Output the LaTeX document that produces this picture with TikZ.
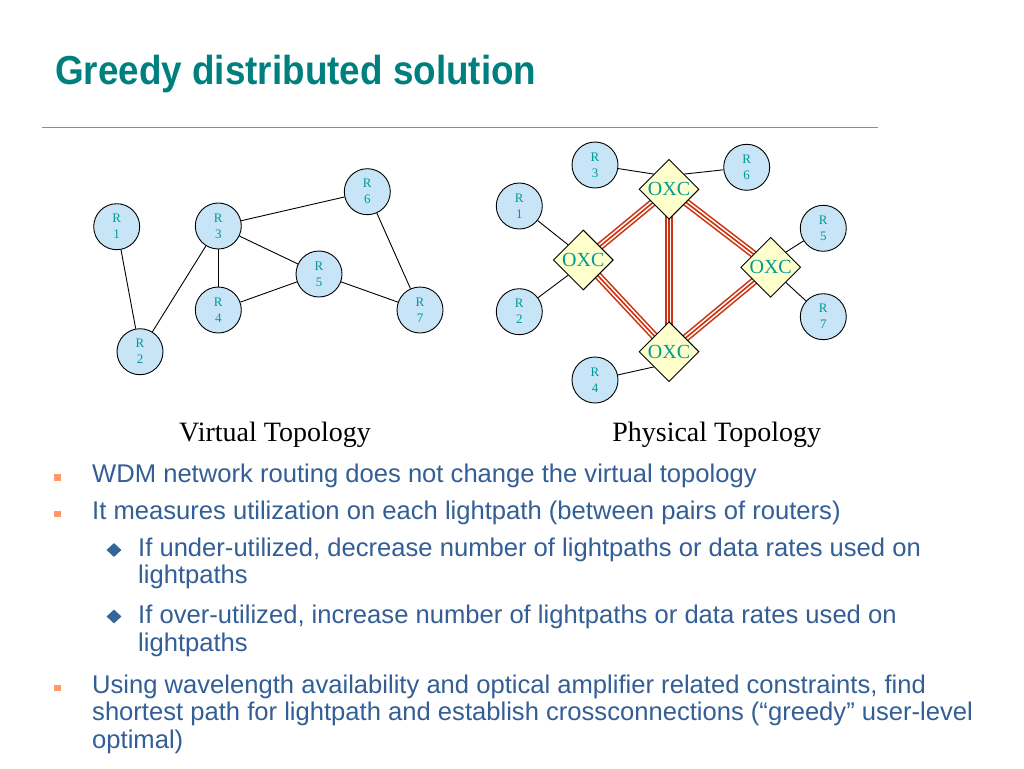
\documentclass[tikz,border=0pt]{standalone}
\usepackage{fontspec}
\setmainfont{Liberation Serif}
\newfontfamily\bodyfont{Liberation Sans}
\newfontfamily\titlefont{Liberation Sans}[FakeStretch=0.91]
\usetikzlibrary{shapes.geometric,backgrounds}
\definecolor{titleteal}{HTML}{007F7F}
\definecolor{rulecol}{HTML}{7F89B8}
\definecolor{bodyblue}{HTML}{335E96}
\definecolor{bulletorange}{HTML}{FF9966}
\definecolor{diamondblue}{HTML}{336699}
\definecolor{nodeteal}{HTML}{009999}
\definecolor{routerfill}{HTML}{C8E4F7}
\definecolor{oxcfill}{HTML}{FFFFCC}
\definecolor{fibred}{HTML}{CC3311}
\tikzset{
  router/.style={circle, draw=black, line width=0.9pt, fill=routerfill, minimum size=46pt, inner sep=0pt, align=center, font=\fontsize{13}{16}\selectfont, text=nodeteal},
  oxc/.style={diamond, aspect=1, draw=black, line width=0.9pt, fill=oxcfill, minimum width=60pt, minimum height=60pt, inner sep=0pt},
  oxclabel/.style={font=\fontsize{20}{20}\selectfont, text=nodeteal, inner sep=0pt},
  fiber/.style={draw=fibred, line width=8pt, postaction={draw=white, line width=4.8pt}, postaction={draw=fibred, line width=1.6pt}},
  vlink/.style={draw=black, line width=0.9pt},
  bodyline/.style={anchor=base west, inner sep=0pt, font=\bodyfont\fontsize{25.6}{27}\selectfont, text=bodyblue},
  caption/.style={anchor=base, inner sep=0pt, font=\fontsize{28}{30}\selectfont, text=black},
  sqbullet/.style={rectangle, fill=bulletorange, minimum size=6.5pt, inner sep=0pt},
  dmbullet/.style={diamond, fill=diamondblue, minimum width=15pt, minimum height=14pt, inner sep=0pt}
}
\begin{document}
\begin{tikzpicture}[x=1pt,y=-1pt]
\useasboundingbox (0,0) rectangle (1024,768);
\begin{scope}[on background layer]
\fill[white] (0,0) rectangle (1024,768);
\end{scope}

% title
\node[anchor=base west, inner sep=0pt, font=\titlefont\bfseries\fontsize{40.5}{44}\selectfont, text=titleteal] (title) at (55,84) {Greedy distributed solution};
\coordinate (ruleA) at (42,127.5);
\coordinate (ruleB) at (878,127.5);
\draw[rulecol, line width=1.5pt] (ruleA) -- (ruleB);

% virtual topology
\node[router] (v1) at (116.7,226.7) {R\\1};
\node[router] (v2) at (140,351.7) {R\\2};
\node[router] (v3) at (218.3,226) {R\\3};
\node[router] (v4) at (218.3,310) {R\\4};
\node[router] (v5) at (319,274) {R\\5};
\node[router] (v6) at (367.3,191.7) {R\\6};
\node[router] (v7) at (420,310) {R\\7};
\draw[vlink] (v1) -- (v2);
\draw[vlink] (v2) -- (v3);
\draw[vlink] (v3) -- (v6);
\draw[vlink] (v3) -- (v4);
\draw[vlink] (v3) -- (v5);
\draw[vlink] (v4) -- (v5);
\draw[vlink] (v5) -- (v7);
\draw[vlink] (v6) -- (v7);

% physical topology
\node[oxc] (oT) at (669,189.3) {};
\node[oxc] (oL) at (583.3,260) {};
\node[oxc] (oR) at (770.7,267.3) {};
\node[oxc] (oB) at (669,351.7) {};
\node[oxclabel] (tT) at (oT) {OXC};
\node[oxclabel] (tL) at (oL) {OXC};
\node[oxclabel] (tR) at (oR) {OXC};
\node[oxclabel] (tB) at (oB) {OXC};
\begin{scope}[on background layer]
\draw[fiber] (oT.center) -- (oL.center);
\draw[fiber] (oT.center) -- (oR.center);
\draw[fiber] (oT.center) -- (oB.center);
\draw[fiber] (oL.center) -- (oB.center);
\draw[fiber] (oR.center) -- (oB.center);
\end{scope}
\node[router] (p1) at (519.3,206) {R\\1};
\node[router] (p2) at (519.3,311.7) {R\\2};
\node[router] (p3) at (595,165) {R\\3};
\node[router] (p4) at (595,380) {R\\4};
\node[router] (p5) at (823.3,228.3) {R\\5};
\node[router] (p6) at (746.7,167.3) {R\\6};
\node[router] (p7) at (823.3,316.7) {R\\7};
\draw[vlink] (p3) -- (oT.north west);
\draw[vlink] (oT.north east) -- (p6);
\draw[vlink] (p1) -- (oL.north west);
\draw[vlink] (p2) -- (oL.south west);
\draw[vlink] (p5) -- (oR.north east);
\draw[vlink] (p7) -- (oR.south east);
\draw[vlink] (p4) -- (oB.south west);

% captions
\node[caption] (capV) at (275,441.7) {Virtual Topology};
\node[caption] (capP) at (716.7,441.7) {Physical Topology};

% bullets
\node[sqbullet] (b1) at (57.5,477.5) {};
\node[sqbullet] (b2) at (57.5,514) {};
\node[dmbullet] (d1) at (114,550) {};
\node[dmbullet] (d2) at (114,616.5) {};
\node[sqbullet] (b3) at (57.5,688) {};

\node[bodyline] (l1) at (92,482) {WDM network routing does not change the virtual topology};
\node[bodyline] (l2) at (92,519) {It measures utilization on each lightpath (between pairs of routers)};
\node[bodyline] (l3) at (138,556.5) {If under-utilized, decrease number of lightpaths or data rates used on};
\node[bodyline] (l4) at (138,583.5) {lightpaths};
\node[bodyline] (l5) at (138,623.5) {If over-utilized, increase number of lightpaths or data rates used on};
\node[bodyline] (l6) at (138,651) {lightpaths};
\node[bodyline] (l7) at (92,693) {Using wavelength availability and optical amplifier related constraints, find};
\node[bodyline] (l8) at (92,720.5) {shortest path for lightpath and establish crossconnections (“greedy” user-level};
\node[bodyline] (l9) at (92,748) {optimal)};
\end{tikzpicture}
\end{document}
